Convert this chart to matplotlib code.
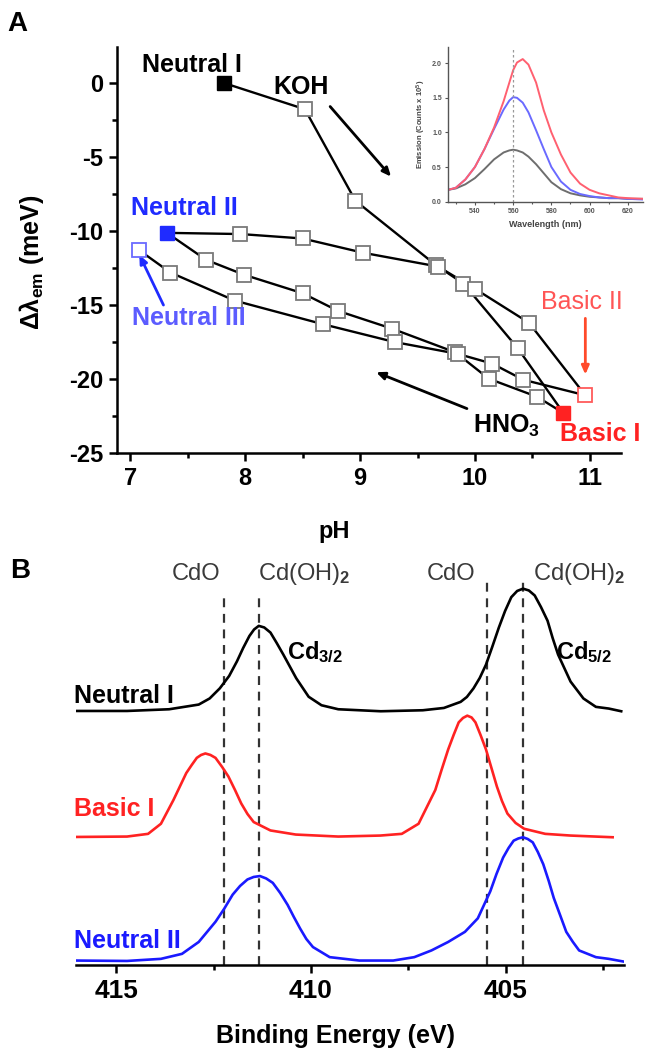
import matplotlib
matplotlib.use("Agg")
import matplotlib.pyplot as plt
from matplotlib.ticker import MultipleLocator

plt.rcParams['font.family'] = ['Liberation Sans', 'DejaVu Sans']
plt.rcParams['font.weight'] = 'bold'
plt.rcParams['axes.unicode_minus'] = False
plt.rcParams['mathtext.fontset'] = 'custom'
plt.rcParams['mathtext.rm'] = 'Liberation Sans'
plt.rcParams['mathtext.bf'] = 'Liberation Sans:bold'
plt.rcParams['mathtext.it'] = 'Liberation Sans:italic'

# ---- panel A data: emission shift vs pH ----
ph_koh1 = [7.82, 8.52, 8.96, 9.66, 9.90, 10.37, 10.77]
shift_koh1 = [0.0, -1.76, -7.95, -12.3, -13.55, -17.9, -22.3]

ph_hno3_1 = [10.77, 10.54, 10.12, 9.83, 9.28, 8.81, 8.50, 7.99, 7.66, 7.32]
shift_hno3_1 = [-22.3, -21.2, -19.98, -18.2, -16.6, -15.4, -14.2, -12.95, -11.94, -10.12]

ph_koh2 = [7.32, 7.96, 8.50, 9.03, 9.68, 10.00, 10.47, 10.96]
shift_koh2 = [-10.12, -10.2, -10.5, -11.47, -12.4, -13.9, -16.2, -21.1]

ph_hno3_2 = [10.96, 10.42, 10.15, 9.85, 9.30, 8.68, 7.91, 7.35, 7.08]
shift_hno3_2 = [-21.1, -20.05, -18.96, -18.3, -17.5, -16.3, -14.7, -12.8, -11.3]

# inset: emission spectra
wl = [526, 530, 535, 540, 545, 550, 555, 558, 560, 562, 565, 568, 572, 576,
      580, 585, 590, 595, 600, 605, 610, 615, 620, 628]
em_gray = [0.17, 0.19, 0.25, 0.34, 0.47, 0.61, 0.71, 0.74, 0.75, 0.74, 0.71, 0.65,
           0.54, 0.41, 0.28, 0.18, 0.12, 0.09, 0.07, 0.06, 0.05, 0.05, 0.04, 0.04]
em_blue = [0.17, 0.20, 0.32, 0.50, 0.76, 1.05, 1.33, 1.46, 1.51, 1.50, 1.43, 1.29,
           1.03, 0.76, 0.50, 0.29, 0.17, 0.11, 0.08, 0.06, 0.05, 0.05, 0.04, 0.03]
em_red = [0.17, 0.20, 0.32, 0.50, 0.76, 1.07, 1.45, 1.72, 1.90, 2.01, 2.06, 1.98,
          1.72, 1.32, 1.00, 0.68, 0.42, 0.26, 0.17, 0.12, 0.09, 0.06, 0.05, 0.04]

# ---- panel B data: XPS spectra (signal above own baseline, a.u.) ----
be_n1 = [416.02, 414.72, 413.64, 412.88, 412.60, 412.34, 412.10, 411.90, 411.74, 411.58,
         411.46, 411.34, 411.20, 411.04, 410.88, 410.71, 410.38, 410.06, 409.73, 409.30,
         408.21, 407.13, 406.59, 406.16, 406.00, 405.83, 405.67, 405.51, 405.35, 405.18,
         405.02, 404.86, 404.71, 404.56, 404.41, 404.26, 404.10, 403.93, 403.80, 403.66,
         403.34, 403.01, 402.69, 402.36, 402.04]
xps_n1 = [0, 0, 1.7, 6.4, 12.5, 22.6, 35, 49.6, 63, 75,
          81.5, 85.1, 83.5, 78.4, 68, 56.4, 32.8, 14.2, 5.7, 1.7,
          -0.3, 0.7, 3, 9.1, 14, 22.6, 33, 46.3, 64, 83.4,
          100, 113.8, 120, 122.3, 120.5, 115.5, 104, 90.2, 73, 56.4,
          29.4, 12.5, 4.1, 2.4, -0.3]

be_b1 = [416.02, 414.72, 414.18, 413.85, 413.53, 413.37, 413.20, 413.06, 412.93, 412.82,
         412.71, 412.58, 412.45, 412.28, 412.12, 411.95, 411.79, 411.63, 411.47, 411.04,
         410.39, 409.30, 408.22, 407.67, 407.24, 406.81, 406.65, 406.48, 406.34, 406.21,
         406.10, 405.99, 405.88, 405.78, 405.65, 405.51, 405.37, 405.23, 405.10, 404.96,
         404.75, 404.53, 403.99, 403.34, 402.26]
xps_b1 = [0, 0.4, 3.1, 13.2, 36.9, 50, 63.9, 72, 79.1, 82,
          83.5, 82, 79.1, 70, 60.5, 47, 33.5, 23, 14.9, 6.5,
          2.4, 0.4, 1.4, 3.1, 13.2, 47, 67, 87.5, 102, 114.6,
          119, 121.3, 119.5, 114.6, 102, 87.5, 69, 50.4, 36, 23.4,
          14, 8.2, 3.1, 1.4, -0.3]

be_n2 = [416.02, 414.72, 413.85, 413.31, 412.88, 412.45, 412.23, 412.01, 411.82, 411.63,
         411.47, 411.31, 411.15, 410.98, 410.79, 410.60, 410.44, 410.28, 410.12, 409.95,
         409.52, 408.76, 407.89, 407.35, 406.91, 406.48, 406.05, 405.72, 405.40, 405.24,
         405.07, 404.93, 404.80, 404.68, 404.56, 404.44, 404.31, 404.18, 404.04, 403.90,
         403.77, 403.60, 403.45, 403.28, 403.12, 402.69, 402.36, 401.98]
xps_n2 = [0.4, 0, 2.1, 7.1, 19, 39.2, 52, 66.3, 75, 81.5,
          84, 84.9, 82.5, 78.1, 68, 56.1, 44, 32.5, 22, 13.9,
          3.8, 0.4, 0.4, 3.8, 10.5, 19, 29.1, 42.6, 69.6, 87,
          103.4, 113, 120.3, 122.5, 123.7, 122, 118.6, 109, 96.7, 80,
          62.9, 45, 29.1, 19, 10.5, 3.8, 2.1, -0.6]

ref_lines = [412.23, 411.33, 405.49, 404.56]
ref_names = ['CdO', 'Cd(OH)$_2$', 'CdO', 'Cd(OH)$_2$']

blue = '#1f2bff'
red = '#ff2222'

fig = plt.figure(figsize=(6.63, 10.5), dpi=100)

# ================= panel A =================
ax = fig.add_axes([0.1772, 0.5686, 0.7594, 0.387])
for xs, ys in [(ph_koh1, shift_koh1), (ph_hno3_1, shift_hno3_1),
               (ph_koh2, shift_koh2), (ph_hno3_2, shift_hno3_2)]:
    ax.plot(xs, ys, color='black', lw=1.7, zorder=2)
for xs, ys in [(ph_koh1, shift_koh1), (ph_hno3_1, shift_hno3_1),
               (ph_koh2, shift_koh2), (ph_hno3_2, shift_hno3_2)]:
    ax.plot(xs[1:-1], ys[1:-1], ls='none', marker='s', ms=9.5, mfc='white',
            mec='#7a7a7a', mew=1.3, zorder=3)

ax.plot(ph_koh1[0], shift_koh1[0], 's', ms=9.5, color='black', zorder=4)
ax.plot(ph_koh2[0], shift_koh2[0], 's', ms=9.5, color=blue, zorder=4)
ax.plot(ph_koh1[-1], shift_koh1[-1], 's', ms=9.5, color=red, zorder=4)
ax.plot(ph_hno3_2[-1], shift_hno3_2[-1], 's', ms=9.5, mfc='white', mec='#6a6aff', mew=1.3, zorder=4)
ax.plot(ph_koh2[-1], shift_koh2[-1], 's', ms=9.5, mfc='white', mec='#ff5a5a', mew=1.3, zorder=4)

ax.set_xlim(6.89, 11.27)
ax.set_ylim(-25, 2.47)
ax.xaxis.set_major_locator(MultipleLocator(1))
ax.xaxis.set_minor_locator(MultipleLocator(0.5))
ax.yaxis.set_major_locator(MultipleLocator(5))
ax.yaxis.set_minor_locator(MultipleLocator(2.5))
for s in ['top', 'right']:
    ax.spines[s].set_visible(False)
for s in ['left', 'bottom']:
    ax.spines[s].set_linewidth(1.8)
ax.tick_params(which='major', length=6, width=1.8, labelsize=17, pad=4)
ax.tick_params(which='minor', length=3.5, width=1.8)
for lab in ax.get_xticklabels() + ax.get_yticklabels():
    lab.set_fontweight('bold')

ax.set_ylabel('Δλ$_{\\mathbf{em}}$ (meV)', fontsize=18, fontweight='bold')
ax.yaxis.set_label_coords(-0.142, 0.47)
ax.set_xlabel('pH', fontsize=17, fontweight='bold')
ax.xaxis.set_label_coords(0.43, -0.165)

tkw = dict(fontsize=18, fontweight='bold', ha='center', va='center')
ax.text(7.54, 1.24, 'Neutral I', color='black', **tkw)
ax.text(8.49, -0.25, 'KOH', color='black', **tkw)
ax.text(7.47, -8.45, 'Neutral II', color=blue, **tkw)
ax.text(7.51, -15.9, 'Neutral III', color='#5c5cff', **tkw)
ax.text(10.93, -14.8, 'Basic II', color='#ff5555', fontsize=18, fontweight='normal',
        ha='center', va='center')
ax.text(11.09, -23.75, 'Basic I', color=red, clip_on=False, **tkw)
ax.text(10.27, -23.2, 'HNO$_\\mathbf{3}$', color='black', **tkw)

akw = dict(arrowstyle='-|>,head_length=0.5,head_width=0.22', lw=2.0, shrinkA=0, shrinkB=0)
ax.annotate('', xy=(9.27, -6.32), xytext=(8.74, -1.58), arrowprops=dict(color='black', **akw))
ax.annotate('', xy=(9.14, -19.54), xytext=(9.93, -22.0), arrowprops=dict(color='black', **akw))
ax.annotate('', xy=(7.08, -11.6), xytext=(7.29, -15.0), arrowprops=dict(color=blue, **akw))
ax.annotate('', xy=(10.96, -19.7), xytext=(10.96, -15.9), arrowprops=dict(color='#ff4a2a', **akw))

fig.text(0.026, 0.977, 'A', fontsize=20, fontweight='bold', ha='center', va='center')

# ---- inset ----
ins = fig.add_axes([0.676, 0.808, 0.294, 0.1476])
ins.plot(wl, em_gray, color='#6e6e6e', lw=1.4)
ins.plot(wl, em_blue, color='#6a6aff', lw=1.4)
ins.plot(wl, em_red, color='#ff6070', lw=1.4)
ins.axvline(560, color='#999999', lw=0.9, ls=(0, (2, 2)))
ins.set_xlim(526, 628)
ins.set_ylim(0, 2.24)
ins.set_xticks([540, 560, 580, 600, 620])
ins.xaxis.set_minor_locator(MultipleLocator(10))
ins.set_yticks([0.0, 0.5, 1.0, 1.5, 2.0])
ins.set_yticklabels(['0.0', '0.5', '1.0', '1.5', '2.0'])
for s in ['top', 'right']:
    ins.spines[s].set_visible(False)
for s in ['left', 'bottom']:
    ins.spines[s].set_color('#555555')
    ins.spines[s].set_linewidth(1.0)
ins.tick_params(which='both', colors='#555555', labelsize=5, length=2.5, width=0.8, pad=2)
ins.tick_params(which='minor', length=1.5)
for lab in ins.get_xticklabels() + ins.get_yticklabels():
    lab.set_fontweight('bold')
ins.set_xlabel('Wavelength (nm)', fontsize=6.5, fontweight='bold', color='#444444', labelpad=4)
ins.set_ylabel('Emission (Counts x 10$^\\mathbf{5}$)', fontsize=5.5, fontweight='bold',
               color='#444444', labelpad=3)

# ================= panel B =================
bx = fig.add_axes([0.1146, 0.081, 0.8265, 0.3857])
ckw = dict(lw=1.9, solid_joinstyle='round')
bx.plot(be_n1, [v + 254 for v in xps_n1], color='black', **ckw)
bx.plot(be_b1, [v + 128 for v in xps_b1], color=red, **ckw)
bx.plot(be_n2, [v + 4 for v in xps_n2], color='#1a1aff', **ckw)

tops = [370, 370, 385, 385]
for e, t in zip(ref_lines, tops):
    bx.plot([e, e], [0, t], color='#333333', lw=1.6, ls=(0, (4, 3)), zorder=1)

name_x = [412.95, 410.18, 406.41, 403.13]
for e, n in zip(name_x, ref_names):
    bx.text(e, 391, n, fontsize=17, fontweight='normal', color='#3a3a3a',
            ha='center', va='center', clip_on=False)

bx.text(410.62, 313, 'Cd$_\\mathbf{3/2}$', fontsize=17, fontweight='bold', ha='left', va='center')
bx.text(403.72, 313, 'Cd$_\\mathbf{5/2}$', fontsize=17, fontweight='bold', ha='left', va='center')
bx.text(416.08, 269, 'Neutral I', fontsize=18, fontweight='bold', ha='left', va='center')
bx.text(416.08, 156, 'Basic I', fontsize=18, fontweight='bold', color=red, ha='left', va='center')
bx.text(416.08, 24, 'Neutral II', fontsize=18, fontweight='bold', color='#1a1aff',
        ha='left', va='center')

bx.set_xlim(416.03, 401.97)
bx.set_ylim(0, 405)
bx.xaxis.set_major_locator(MultipleLocator(5))
bx.xaxis.set_minor_locator(MultipleLocator(2.5))
bx.set_yticks([])
for s in ['top', 'right', 'left']:
    bx.spines[s].set_visible(False)
bx.spines['bottom'].set_linewidth(1.8)
bx.tick_params(which='major', length=6, width=1.8, labelsize=19, pad=4)
bx.tick_params(which='minor', length=3.5, width=1.8)
for lab in bx.get_xticklabels():
    lab.set_fontweight('bold')
bx.set_xlabel('Binding Energy (eV)', fontsize=18, fontweight='bold')
bx.xaxis.set_label_coords(0.474, -0.145)

fig.text(0.03, 0.456, 'B', fontsize=20, fontweight='bold', ha='center', va='center')

fig.savefig('out.png', dpi=100)
